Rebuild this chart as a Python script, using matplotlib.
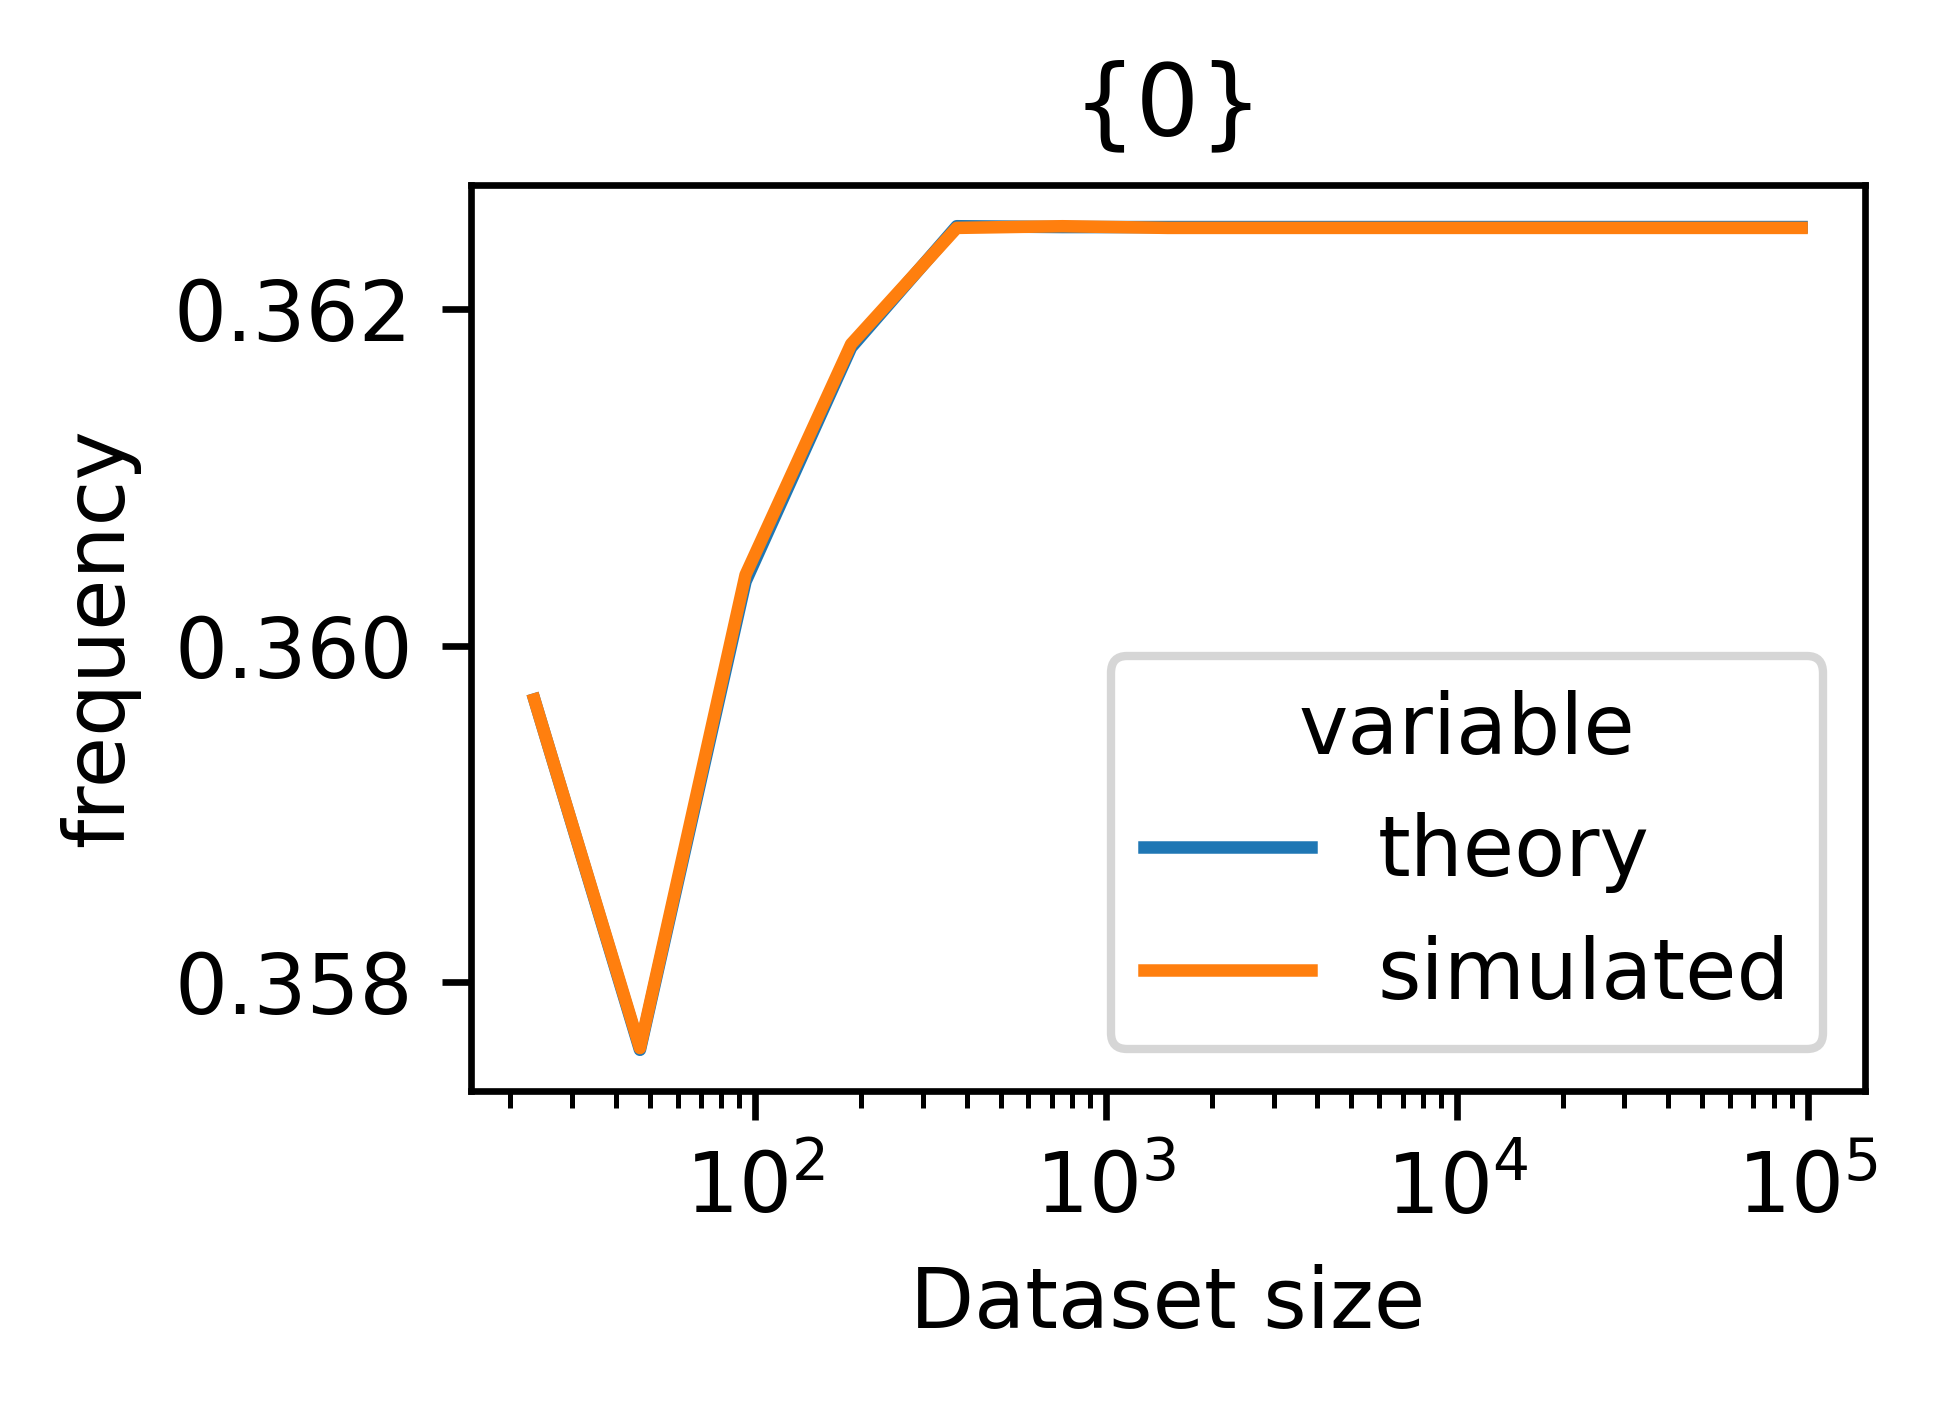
import matplotlib.pyplot as plt
import numpy as np

# dataset sizes (doubling) and frequencies
sizes = [23.4375, 46.875, 93.75, 187.5, 375, 750, 1500, 3000, 6000, 12000, 24000, 48000, 96000]
theory = [0.35968, 0.35760, 0.36038, 0.36177, 0.36249, 0.362485, 0.362485, 0.362485,
          0.362485, 0.362485, 0.362485, 0.362485, 0.362485]
simulated = [0.35968, 0.35761, 0.36042, 0.36179, 0.36248, 0.36249, 0.36248, 0.36248,
             0.36248, 0.36248, 0.36248, 0.36248, 0.36248]

fig = plt.figure(figsize=(1939 / 600, 1405 / 600), dpi=600)
ax = fig.add_axes([0.2429, 0.2235, 0.9618 - 0.2429, 0.8683 - 0.2235])

ax.plot(sizes, theory, color='tab:blue', lw=1.5, label='theory')
ax.plot(sizes, simulated, color='tab:orange', lw=1.5, label='simulated')
ax.set_xscale('log')

ax.set_title("{0}")
ax.set_xlabel("Dataset size")
ax.set_ylabel("frequency")
ax.set_yticks([0.358, 0.360, 0.362])
ax.legend(title="variable", loc='lower right')

fig.savefig('out.png', dpi=600)
